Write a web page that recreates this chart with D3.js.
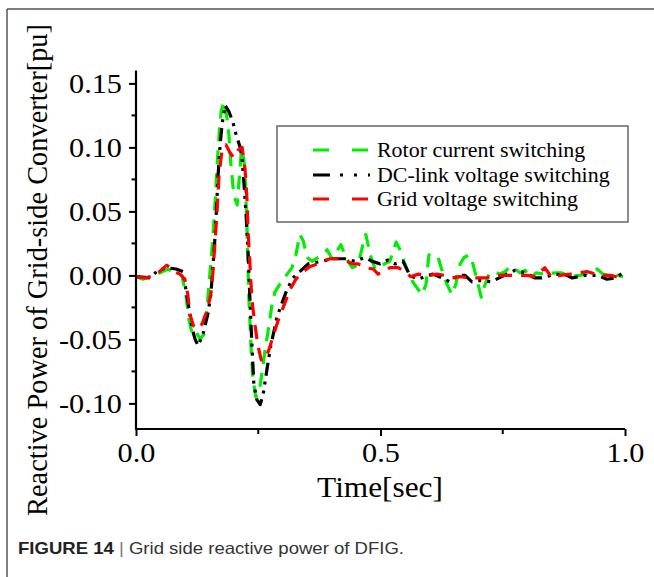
<!DOCTYPE html>
<html><head><meta charset="utf-8">
<script src="https://cdn.jsdelivr.net/npm/d3@7"></script>
<style>
html,body{margin:0;padding:0;background:#fff;}
svg{display:block;}
</style></head>
<body>
<svg id="chart" width="654" height="577"></svg>
<script>
// ---- data (time in sec, reactive power in pu) ----
const seriesNames = ["Rotor current switching", "DC-link voltage switching", "Grid voltage switching"];
const seriesColors = ["#00ee00", "#000000", "#ff0000"];

const tRotor = [0.002,0.014,0.029,0.049,0.065,0.08,0.094,0.102,0.108,0.115,0.123,0.131,0.139,0.145,0.151,0.157,0.162,0.166,0.17,0.174,0.18,0.186,0.19,0.194,0.2,0.207,0.211,0.215,0.219,0.223,0.227,0.231,0.235,0.239,0.245,0.252,0.258,0.264,0.27,0.278,0.284,0.294,0.309,0.319,0.327,0.335,0.342,0.35,0.36,0.372,0.382,0.391,0.401,0.411,0.419,0.429,0.442,0.454,0.464,0.47,0.479,0.489,0.503,0.519,0.532,0.54,0.548,0.558,0.566,0.577,0.585,0.593,0.599,0.607,0.618,0.624,0.636,0.646,0.654,0.663,0.671,0.681,0.689,0.697,0.706,0.714,0.722,0.732,0.744,0.755,0.765,0.775,0.785,0.796,0.806,0.818,0.836,0.857,0.871,0.888,0.908,0.928,0.943,0.955,0.969,0.986,0.996];
const vRotor = [-0.001,-0.003,-0.001,0.002,0.005,0.002,0,-0.015,-0.034,-0.046,-0.044,-0.05,-0.046,-0.027,0.001,0.028,0.059,0.087,0.11,0.128,0.136,0.123,0.11,0.087,0.063,0.055,0.075,0.095,0.098,0.079,0.036,-0.019,-0.054,-0.081,-0.095,-0.091,-0.075,-0.058,-0.044,-0.023,-0.013,-0.007,0.001,0.006,0.016,0.032,0.027,0.014,0.011,0.014,0.016,0.02,0.013,0.019,0.024,0.014,0.006,0.008,0.024,0.032,0.016,0.005,0.008,0.011,0.026,0.02,0.011,0.001,-0.005,-0.011,-0.015,-0.007,0.016,0.014,0.014,0.006,-0.007,-0.015,-0.007,0.009,0.014,0.016,0.009,-0.003,-0.017,-0.007,0.001,0.003,0.001,0.003,0.007,0.005,0.002,0.004,-0.003,0.002,0.001,0.002,0.002,-0.001,0,0.002,0.005,0.001,0,0,-0.001];

const tDC = [0.002,0.029,0.045,0.063,0.082,0.096,0.102,0.108,0.115,0.121,0.127,0.137,0.147,0.153,0.157,0.162,0.164,0.168,0.172,0.176,0.182,0.19,0.198,0.204,0.213,0.217,0.221,0.225,0.229,0.233,0.237,0.241,0.247,0.254,0.26,0.268,0.276,0.282,0.288,0.299,0.309,0.321,0.335,0.352,0.366,0.38,0.403,0.427,0.448,0.468,0.483,0.499,0.515,0.53,0.546,0.56,0.577,0.591,0.607,0.626,0.642,0.658,0.673,0.687,0.703,0.726,0.748,0.775,0.796,0.816,0.83,0.857,0.881,0.892,0.918,0.945,0.963,0.98,0.996];
const vDC = [-0.001,-0.002,0.004,0.006,0.005,0.003,-0.011,-0.025,-0.042,-0.05,-0.055,-0.046,-0.03,-0.015,0.005,0.032,0.048,0.079,0.102,0.118,0.133,0.128,0.12,0.111,0.1,0.091,0.071,0.048,0.02,-0.019,-0.054,-0.085,-0.097,-0.101,-0.093,-0.073,-0.054,-0.044,-0.033,-0.021,-0.011,-0.002,0.003,0.009,0.01,0.011,0.013,0.013,0.011,0.014,0.011,0.009,0.012,0.009,0.011,0,-0.003,-0.001,0.001,-0.002,-0.005,0,0,-0.005,-0.004,-0.005,-0.001,0.004,0.002,-0.002,-0.002,0.001,0,-0.002,0,0,-0.003,-0.002,0.002];

const tGrid = [0.002,0.018,0.039,0.063,0.078,0.09,0.1,0.106,0.11,0.117,0.125,0.135,0.145,0.153,0.157,0.162,0.166,0.17,0.176,0.184,0.192,0.2,0.209,0.217,0.223,0.227,0.229,0.233,0.237,0.243,0.249,0.256,0.264,0.272,0.28,0.29,0.301,0.315,0.327,0.342,0.356,0.372,0.382,0.397,0.413,0.427,0.442,0.454,0.47,0.485,0.495,0.509,0.519,0.536,0.55,0.562,0.577,0.597,0.616,0.632,0.646,0.663,0.683,0.697,0.714,0.728,0.744,0.769,0.785,0.8,0.816,0.836,0.851,0.867,0.888,0.904,0.922,0.939,0.959,0.973,0.996];
const vGrid = [-0.001,-0.002,0,0.008,0.003,0.001,-0.003,-0.015,-0.03,-0.039,-0.042,-0.038,-0.028,-0.015,0.001,0.028,0.052,0.079,0.098,0.102,0.096,0.092,0.098,0.1,0.083,0.059,0.036,0.009,-0.019,-0.038,-0.054,-0.066,-0.066,-0.058,-0.048,-0.036,-0.025,-0.011,-0.003,0.003,0.007,0.009,0.011,0.013,0.013,0.012,0.009,0.009,0.006,0.005,0.001,0.003,0.006,0.006,0.003,-0.001,0.001,0,0.001,0,-0.002,-0.001,-0.002,-0.002,-0.002,-0.001,0,0,0,0,-0.001,0.006,-0.002,0,0.001,0.002,0.003,0.001,0,0,-0.003];

const xMajorTicks = [0.0, 0.5, 1.0];
const xMinorTicks = [0.25, 0.75];
const yMajorTicks = [-0.10, -0.05, 0.00, 0.05, 0.10, 0.15];
const yMinorTicks = [-0.075, -0.025, 0.025, 0.075, 0.125];
const xLabel = "Time[sec]";
const yLabel = "Reactive Power of Grid-side Converter[pu]";
const captionBold = "FIGURE 14";
const captionText = " Grid side reactive power of DFIG.";

// ---- layout ----
const svg = d3.select("#chart");
const serif = "'Liberation Serif','Times New Roman',serif";
const sans = "'Liberation Sans',Arial,sans-serif";

// outer frame (top and left visible)
svg.append("line").attr("x1",7).attr("y1",9).attr("x2",654).attr("y2",9).attr("stroke","#555").attr("stroke-width",1.5);
svg.append("line").attr("x1",7).attr("y1",9).attr("x2",7).attr("y2",577).attr("stroke","#555").attr("stroke-width",1.5);

const x = d3.scaleLinear().domain([0,1]).range([136,625]);
const y = d3.scaleLinear().domain([-0.12,0.16]).range([429,70.6]);

const dashes = ["14,9", "13,6,3,6,3,6", "14,9"];
const sets = [[tRotor,vRotor],[tDC,vDC],[tGrid,vGrid]];
const line = d3.line().x(d=>x(d[0])).y(d=>y(d[1])).curve(d3.curveLinear);
const plot = svg.append("g");
sets.forEach((s,i)=>{
  const pts = s[0].map((t,j)=>[t,s[1][j]]);
  plot.append("path").datum(pts).attr("d",line)
    .attr("fill","none").attr("stroke",seriesColors[i]).attr("stroke-width",3.2)
    .attr("stroke-dasharray",dashes[i]).attr("stroke-linejoin","round");
});

// axes
const yAxis = svg.append("g").attr("transform",`translate(${x(0)},0)`);
yAxis.call(d3.axisLeft(y).tickValues(yMajorTicks).tickFormat(d3.format(".2f")).tickSize(7).tickSizeOuter(0));
yAxis.append("g").selectAll("line").data(yMinorTicks).join("line")
  .attr("x1",0).attr("x2",-4.5).attr("y1",d=>y(d)).attr("y2",d=>y(d)).attr("stroke","#000").attr("stroke-width",2);
yAxis.select(".domain").attr("stroke-width",2.2).attr("d",`M0,${y(0.16)}V${y(-0.12)}`);
yAxis.selectAll(".tick line").attr("stroke-width",2);
yAxis.selectAll(".tick text").attr("font-family",serif).attr("font-size",28).attr("fill","#000").attr("x",-13)
  .attr("transform","scale(1.08,1)")
  .text(d=>d3.format(".2f")(d).replace("−","-"));

const xAxis = svg.append("g").attr("transform",`translate(0,${y(-0.12)})`);
xAxis.call(d3.axisBottom(x).tickValues(xMajorTicks).tickFormat(d3.format(".1f")).tickSize(7).tickSizeOuter(0));
xAxis.append("g").selectAll("line").data(xMinorTicks).join("line")
  .attr("y1",0).attr("y2",5).attr("x1",d=>x(d)).attr("x2",d=>x(d)).attr("stroke","#000").attr("stroke-width",2);
xAxis.select(".domain").attr("stroke-width",2.2).attr("d",`M${x(0)-1},0H${x(1)}`);
xAxis.selectAll(".tick line").attr("stroke-width",2);
xAxis.selectAll(".tick text").attr("font-family",serif).attr("font-size",28).attr("fill","#000").attr("y",13)
  .attr("transform","scale(1.08,1)");

svg.append("text").attr("transform","translate(380,497) scale(1.08,1)").attr("text-anchor","middle")
  .attr("font-family",serif).attr("font-size",29).attr("fill","#000").text(xLabel);
svg.append("text").attr("transform","translate(47,270) rotate(-90)").attr("text-anchor","middle")
  .attr("font-family",serif).attr("font-size",28.4).attr("fill","#000").text(yLabel);

// legend
const lg = svg.append("g");
lg.append("rect").attr("x",277).attr("y",126).attr("width",351).attr("height",96)
  .attr("fill","#fff").attr("stroke","#666").attr("stroke-width",1.5);
const legendDash = ["16,23", "17,10,3,11,3,11", "16,23"];
const rowsY = [150, 175, 199];
[0,1,2].forEach(i=>{
  lg.append("line").attr("x1",313).attr("x2",370).attr("y1",rowsY[i]).attr("y2",rowsY[i])
    .attr("stroke",seriesColors[i]).attr("stroke-width",3.2).attr("stroke-dasharray",legendDash[i]);
  lg.append("text").attr("transform",`translate(377,${rowsY[i]+7}) scale(1.07,1)`).attr("font-family",serif).attr("font-size",20.5)
    .attr("fill","#000").text(seriesNames[i]);
});

// caption
const cap = svg.append("text").attr("x",18).attr("y",554).attr("font-family",sans).attr("font-size",16.5).attr("fill","#333")
  .attr("transform","translate(18,0) scale(0.999,1) translate(-18,0)");
cap.append("tspan").attr("font-weight","bold").attr("fill","#222").text(captionBold);
cap.append("tspan").attr("fill","#777").text(" |");
cap.append("tspan").text(captionText);
const capW = cap.node().getComputedTextLength();
cap.attr("transform",`translate(18,0) scale(${386/capW},1) translate(-18,0)`);
</script>
</body></html>
